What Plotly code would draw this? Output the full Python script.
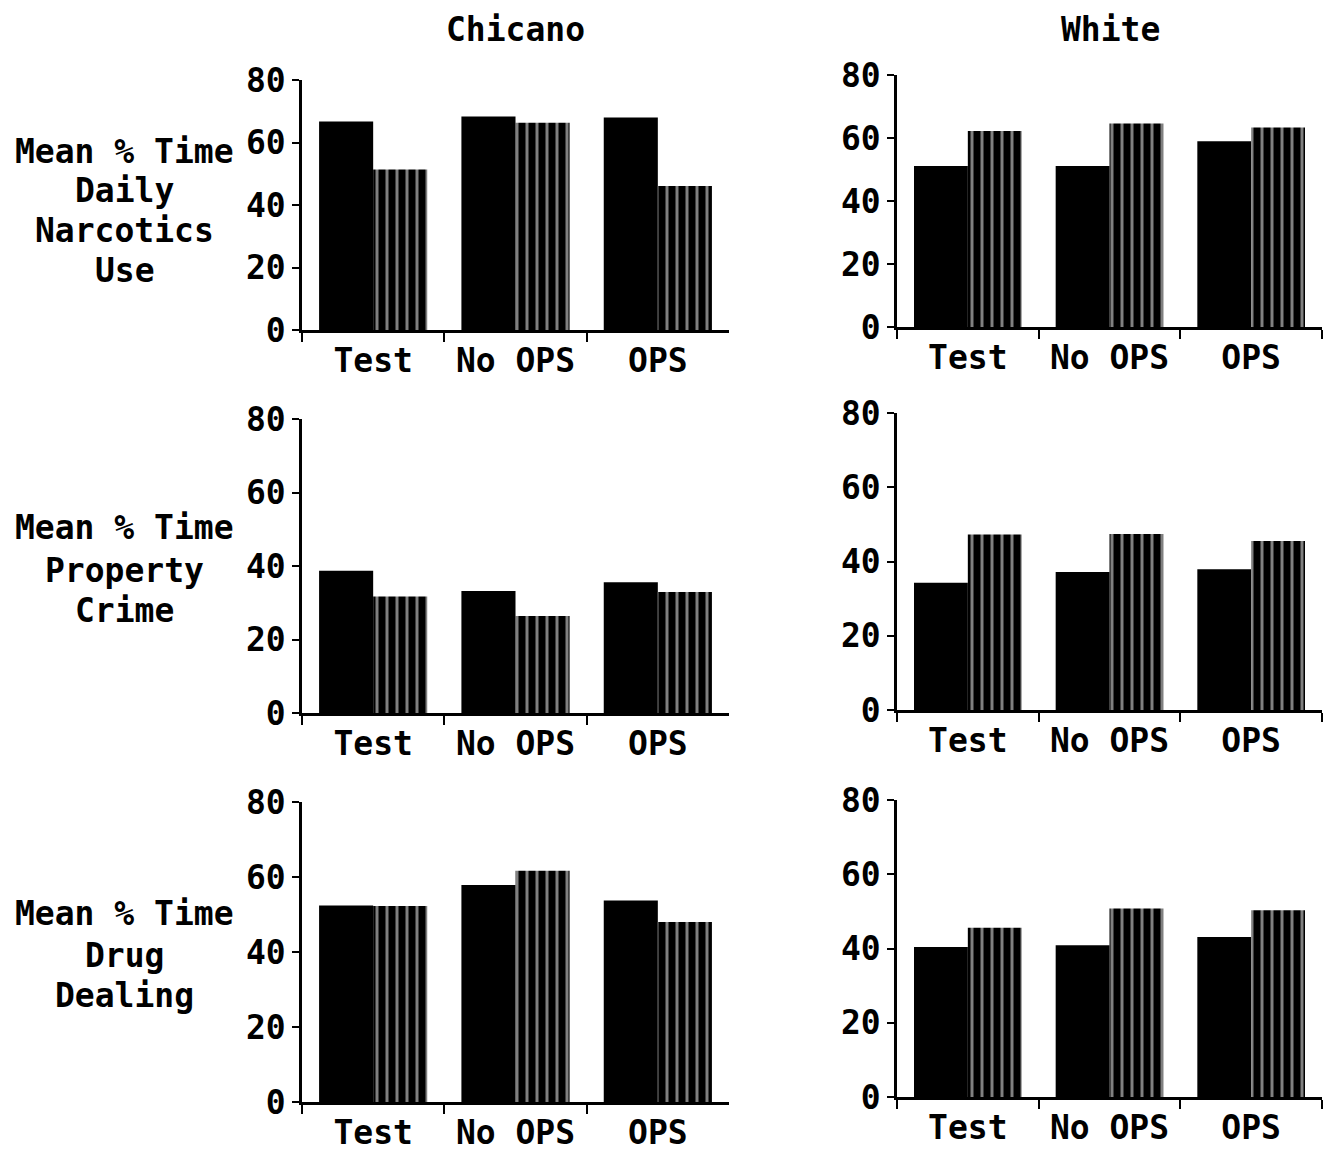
import plotly.graph_objects as go

# ---------------- data ----------------
categories = ["Test", "No OPS", "OPS"]
column_titles = ["Chicano", "White"]
row_labels = [
    ["Mean % Time", "Daily", "Narcotics", "Use"],
    ["Mean % Time", "Property", "Crime"],
    ["Mean % Time", "Drug", "Dealing"],
]
y_tick_values = [0, 20, 40, 60, 80]

# solid (black) and hatched bars per panel
chicano_narcotics_solid = [66.7, 68.3, 68.0]
chicano_narcotics_hatched = [51.4, 66.3, 46.1]
white_narcotics_solid = [51.1, 51.1, 59.0]
white_narcotics_hatched = [62.2, 64.6, 63.3]

chicano_property_solid = [38.7, 33.2, 35.6]
chicano_property_hatched = [31.7, 26.4, 32.9]
white_property_solid = [34.3, 37.2, 37.9]
white_property_hatched = [47.3, 47.4, 45.5]

chicano_dealing_solid = [52.4, 57.9, 53.7]
chicano_dealing_hatched = [52.3, 61.7, 48.0]
white_dealing_solid = [40.4, 40.9, 43.1]
white_dealing_hatched = [45.6, 50.8, 50.3]

panels = [
    [(chicano_narcotics_solid, chicano_narcotics_hatched), (white_narcotics_solid, white_narcotics_hatched)],
    [(chicano_property_solid, chicano_property_hatched), (white_property_solid, white_property_hatched)],
    [(chicano_dealing_solid, chicano_dealing_hatched), (white_dealing_solid, white_dealing_hatched)],
]

# ---------------- layout geometry (pixels) ----------------
W, H = 1332, 1152
col_x = [(302, 729), (897, 1322)]
row_y = [[(80, 330), (75, 327)], [(419, 713), (413, 710)], [(802, 1102), (800, 1097)]]
title_x = [515, 1110]
title_y = 30
label_x = 125
label_y = [[152, 190, 230, 270], [528, 570, 610], [913, 955, 995]]

FONT = "DejaVu Sans Mono"
FS = 33
font = dict(family=FONT, size=FS, color="black", weight="bold")

fig = go.Figure()
layout_axes = {}
idx = 0
for r in range(3):
    for c in range(2):
        idx += 1
        xa = "x" if idx == 1 else f"x{idx}"
        ya = "y" if idx == 1 else f"y{idx}"
        solid, hatched = panels[r][c]
        fig.add_trace(go.Bar(
            x=categories, y=solid, xaxis=xa, yaxis=ya,
            marker=dict(color="black", line=dict(width=0)),
            offsetgroup="a", showlegend=False,
        ))
        fig.add_trace(go.Bar(
            x=categories, y=hatched, xaxis=xa, yaxis=ya,
            marker=dict(color="black", line=dict(width=0),
                        pattern=dict(shape="|", bgcolor="black", fgcolor="white",
                                     size=10, solidity=0.3)),
            offsetgroup="b", showlegend=False,
        ))
        x0, x1 = col_x[c]
        yt, yb = row_y[r][c]
        xkey = "xaxis" if idx == 1 else f"xaxis{idx}"
        ykey = "yaxis" if idx == 1 else f"yaxis{idx}"
        layout_axes[xkey] = dict(
            domain=[x0 / W, x1 / W], anchor=ya, type="category", automargin=False,
            range=[-0.5, 2.5], showline=True, linecolor="black", linewidth=2.5,
            ticks="outside", tickson="boundaries", ticklen=9, tickwidth=2,
            tickcolor="black", showgrid=False, zeroline=False,
            tickfont=font,
        )
        layout_axes[ykey] = dict(
            domain=[1 - yb / H, 1 - yt / H], anchor=xa, range=[0, 80], automargin=False,
            tickvals=y_tick_values, showline=True, linecolor="black", linewidth=2.5,
            ticks="outside", ticklen=7, tickwidth=2, tickcolor="black",
            showgrid=False, zeroline=False,
            tickfont=font,
        )

annotations = []
for c, t in enumerate(column_titles):
    annotations.append(dict(text=t, x=title_x[c] / W, y=1 - title_y / H, xref="paper", yref="paper",
                            xanchor="center", yanchor="middle", showarrow=False, font=font))
for r, lines in enumerate(row_labels):
    for i, line in enumerate(lines):
        annotations.append(dict(text=line, x=label_x / W, y=1 - label_y[r][i] / H,
                                xref="paper", yref="paper", xanchor="center", yanchor="middle",
                                showarrow=False, font=font))

fig.update_layout(
    width=W, height=H, margin=dict(l=0, r=0, t=0, b=0, autoexpand=False),
    paper_bgcolor="white", plot_bgcolor="white",
    barmode="group", bargap=0.24, bargroupgap=0.0,
    annotations=annotations, showlegend=False,
    **layout_axes,
)

fig.write_html(
    "out.html",
    config={"displayModeBar": False},
    post_script="document.body.style.margin='0px';document.body.style.padding='0px';document.body.style.overflow='hidden';",
)
